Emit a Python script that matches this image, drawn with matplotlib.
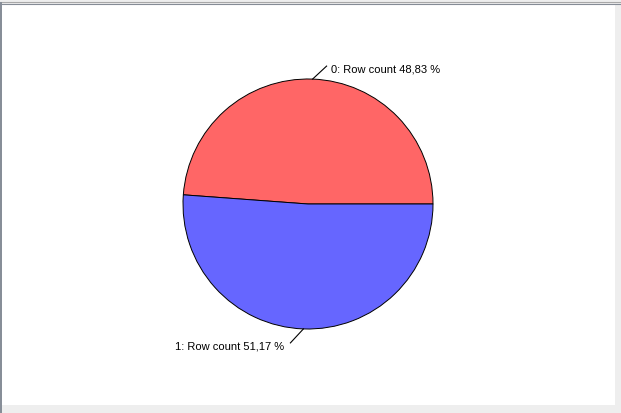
import numpy as np
import matplotlib
matplotlib.use("Agg")
import matplotlib.pyplot as plt
from matplotlib.patches import Rectangle
from matplotlib.lines import Line2D

# data
categories = ["0", "1"]
shares = [48.83, 51.17]
colors = ["#FF6666", "#6666FF"]

W, H = 621, 414
fig = plt.figure(figsize=(W / 100, H / 100), dpi=100, facecolor="#EEEEEE")


def px(x, y):
    """pixel coords (top-left origin) -> figure fraction"""
    return x / W, 1 - y / H


# white panel + frame lines
x0, y0 = px(2, 406)
fig.add_artist(Rectangle((x0, y0), (615 - 2) / W, (406 - 5) / H,
                         transform=fig.transFigure, facecolor="white",
                         edgecolor="none", zorder=0))
fig.add_artist(Line2D([0, 1], [1 - 2.5 / H] * 2, transform=fig.transFigure,
                      color="#A8A8A8", lw=0.8))
fig.add_artist(Line2D([2 / W, 1], [1 - 4.5 / H] * 2, transform=fig.transFigure,
                      color="#858C96", lw=0.8))
fig.add_artist(Line2D([0.8 / W] * 2, [1 - 4 / H, 0], transform=fig.transFigure,
                      color="#858C96", lw=1.4))

# pie axes: center (308, 205), radius 125 px
cx, cy, r = 308, 205, 125
l, b = px(cx - r, cy + r)
ax = fig.add_axes([l, b, 2 * r / W, 2 * r / H])
wedges, _ = ax.pie(shares, colors=colors, startangle=0, counterclock=True,
                   radius=1.0,
                   wedgeprops=dict(edgecolor="black", linewidth=0.7))
ax.set_xlim(-1, 1)
ax.set_ylim(-1, 1)
ax.set_aspect("equal")
ax.axis("off")

# labels with short leader lines
label_offsets = [(14, -13), (-13, 14)]   # leader end offset in px (screen, y down)
for i, (w, cat, s) in enumerate(zip(wedges, categories, shares)):
    mid = np.deg2rad((w.theta1 + w.theta2) / 2)
    sx = cx + r * np.cos(mid)
    sy = cy - r * np.sin(mid)
    dx, dy = label_offsets[i]
    ex, ey = sx + dx, sy + dy
    fig.add_artist(Line2D([sx / W, ex / W], [1 - sy / H, 1 - ey / H],
                          transform=fig.transFigure, color="black", lw=0.8))
    text = f"{cat}: Row count {s:.2f} %".replace(".", ",")
    if dx > 0:
        tx, ha = ex + 4, "left"
    else:
        tx, ha = ex - 6, "right"
    fig.text(tx / W, 1 - (ey + 2.5) / H, text, ha=ha, va="center",
             fontsize=8, family="Liberation Sans", color="black")

fig.savefig("out.png", dpi=100, facecolor=fig.get_facecolor())
